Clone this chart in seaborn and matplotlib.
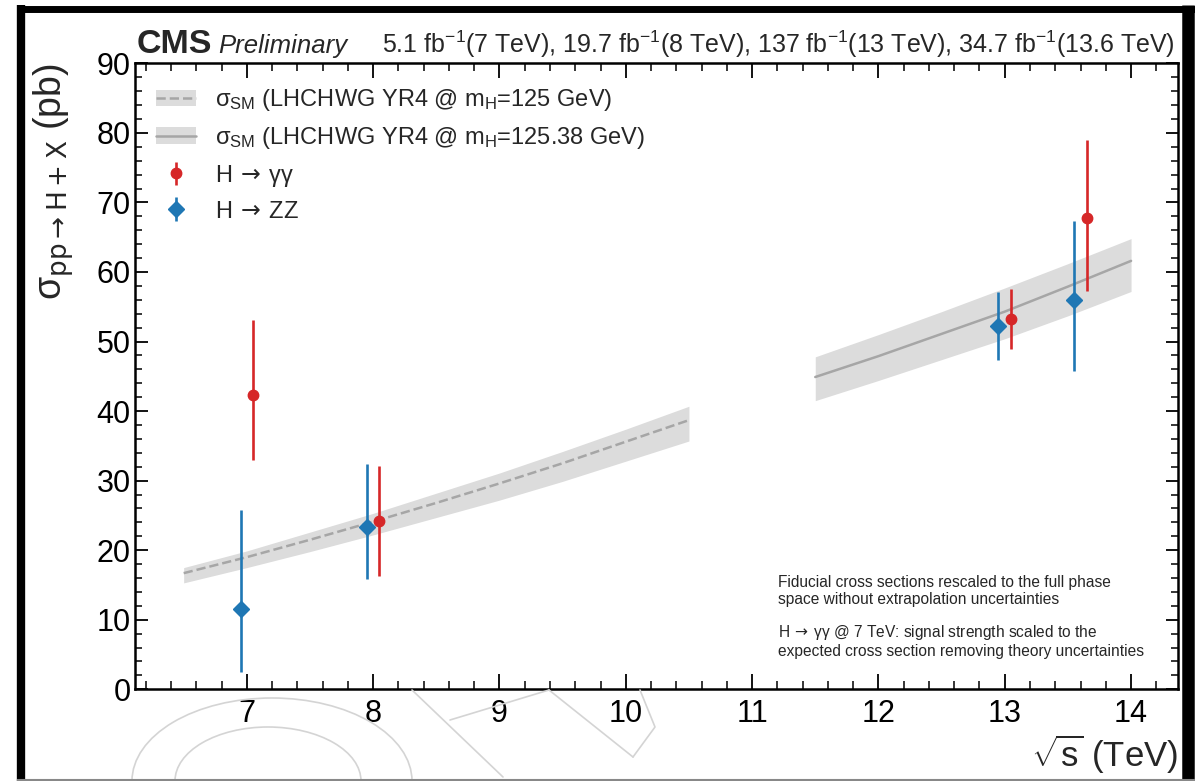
import matplotlib
matplotlib.use('Agg')
import matplotlib.pyplot as plt
import seaborn as sns
from matplotlib.lines import Line2D
from matplotlib.patches import Patch, Arc
from matplotlib.ticker import MultipleLocator

# theory predictions (YR4), central value and band edges in pb
sqrt_s_125 = [6.5, 7.0, 7.5, 8.0, 8.5, 9.0, 9.5, 10.0, 10.5]
xs_125 = [16.7, 19.0, 21.5, 24.1, 26.8, 29.6, 32.5, 35.6, 38.7]
xs_125_hi = [17.5, 19.9, 22.6, 25.3, 28.2, 31.1, 34.2, 37.4, 40.7]
xs_125_lo = [15.3, 17.5, 19.8, 22.2, 24.7, 27.2, 29.9, 32.8, 35.7]

sqrt_s_12538 = [11.5, 12.0, 12.5, 13.0, 13.5, 14.0]
xs_12538 = [44.9, 47.9, 51.1, 54.3, 57.9, 61.6]
xs_12538_hi = [47.8, 51.0, 54.3, 57.7, 61.2, 64.8]
xs_12538_lo = [41.5, 44.4, 47.4, 50.4, 53.7, 57.2]

# measurements (points shifted a bit left/right of the nominal energy)
x_gg = [7.05, 8.05, 13.05, 13.65]
y_gg = [42.3, 24.2, 53.2, 67.7]
y_gg_lo = [33.0, 16.3, 48.9, 57.2]
y_gg_hi = [53.1, 32.1, 57.6, 79.0]

x_zz = [6.95, 7.95, 12.95, 13.55]
y_zz = [11.5, 23.3, 52.2, 56.0]
y_zz_lo = [2.5, 15.9, 47.3, 45.7]
y_zz_hi = [25.8, 32.4, 57.1, 67.4]

red = '#d62728'
blue = '#1f77b4'
band = '#dcdcdc'
line_grey = '#a6a6a6'

sns.set_theme(style='ticks')
plt.rcParams['font.family'] = ['Liberation Sans', 'DejaVu Sans']
plt.rcParams['mathtext.fontset'] = 'custom'
plt.rcParams['mathtext.rm'] = 'Liberation Sans'
plt.rcParams['mathtext.it'] = 'Liberation Sans:italic'
plt.rcParams['mathtext.bf'] = 'Liberation Sans:bold'
plt.rcParams['mathtext.sf'] = 'Liberation Sans'

fig = plt.figure(figsize=(11.95, 7.81), dpi=100)
ax = fig.add_axes([0.113, 0.1174, 0.8726, 0.8015])

ax.fill_between(sqrt_s_125, xs_125_lo, xs_125_hi, color=band, lw=0, zorder=1)
sns.lineplot(x=sqrt_s_125, y=xs_125, ax=ax, color=line_grey, linestyle='--', lw=1.8, zorder=2)
ax.fill_between(sqrt_s_12538, xs_12538_lo, xs_12538_hi, color=band, lw=0, zorder=1)
sns.lineplot(x=sqrt_s_12538, y=xs_12538, ax=ax, color=line_grey, linestyle='-', lw=1.8, zorder=2)

err_gg = [[y - l for y, l in zip(y_gg, y_gg_lo)], [h - y for y, h in zip(y_gg, y_gg_hi)]]
err_zz = [[y - l for y, l in zip(y_zz, y_zz_lo)], [h - y for y, h in zip(y_zz, y_zz_hi)]]
eb_gg = ax.errorbar(x_gg, y_gg, yerr=err_gg, fmt='o', color=red, ms=7.5,
                    elinewidth=1.9, capsize=0, zorder=4)
eb_zz = ax.errorbar(x_zz, y_zz, yerr=err_zz, fmt='D', color=blue, ms=8,
                    elinewidth=1.9, capsize=0, zorder=4)

ax.set_xlim(6.115, 14.37)
ax.set_ylim(0, 90)
ax.xaxis.set_major_locator(MultipleLocator(1))
ax.xaxis.set_minor_locator(MultipleLocator(0.2))
ax.yaxis.set_major_locator(MultipleLocator(10))
ax.yaxis.set_minor_locator(MultipleLocator(2))
ax.tick_params(which='both', direction='in', top=True, right=True, colors='black')
ax.tick_params(axis='x', which='major', length=11, width=1.3, labelsize=22, pad=7)
ax.tick_params(axis='x', which='minor', length=6, width=1.1)
ax.tick_params(axis='y', which='major', length=9, width=1.3, labelsize=22, pad=3)
ax.tick_params(axis='y', which='minor', length=5, width=1.1)
for sp in ax.spines.values():
    sp.set_linewidth(1.8)
    sp.set_color('black')

ax.set_ylabel(r'σ$_{\mathrm{pp}\rightarrow\mathrm{H+X}}$ (pb)', fontsize=27, loc='top',
              math_fontfamily='dejavusans')
ax.yaxis.set_label_coords(-0.057, 1.0)
ax.set_xlabel(r'$\sqrt{\mathrm{s}}$ (TeV)', fontsize=25, loc='right')
ax.xaxis.set_label_coords(1.0, -0.07)

h1 = (Patch(facecolor=band, edgecolor='none'), Line2D([], [], color=line_grey, ls='--', lw=1.8))
h2 = (Patch(facecolor=band, edgecolor='none'), Line2D([], [], color=line_grey, ls='-', lw=1.8))
labels = [r'σ$_{\mathrm{SM}}$ (LHCHWG YR4 @ m$_{\mathrm{H}}$=125 GeV)',
          r'σ$_{\mathrm{SM}}$ (LHCHWG YR4 @ m$_{\mathrm{H}}$=125.38 GeV)',
          r'H$\,\rightarrow\,$γγ', r'H$\,\rightarrow\,$ZZ']
leg = ax.legend([h1, h2, eb_gg, eb_zz], labels, loc='upper left', bbox_to_anchor=(0.02, 0.962),
                frameon=False, fontsize=17, handlelength=1.7, handletextpad=0.8,
                labelspacing=0.5, borderaxespad=0, borderpad=0, numpoints=1)
for t in leg.get_texts()[2:]:
    t.set_math_fontfamily('dejavusans')

ax.text(0.617, 0.183, 'Fiducial cross sections rescaled to the full phase\n'
        'space without extrapolation uncertainties',
        transform=ax.transAxes, fontsize=11.2, va='top', ha='left', linespacing=1.2)
ax.text(0.617, 0.106, r'H$\,\rightarrow\,$γγ @ 7 TeV: signal strength scaled to the' '\n'
        'expected cross section removing theory uncertainties',
        transform=ax.transAxes, fontsize=11.2, va='top', ha='left', linespacing=1.2,
        math_fontfamily='dejavusans')

# header
fig.text(137 / 1195, 1 - 53 / 781, 'CMS', fontsize=24.5, fontweight='bold', va='baseline')
fig.text(218 / 1195, 1 - 53 / 781, 'Preliminary', fontsize=18.5, style='italic', va='baseline')
fig.text(1175 / 1195, 1 - 53 / 781,
         r'5.1 fb$^{-1}$(7 TeV), 19.7 fb$^{-1}$(8 TeV), 137 fb$^{-1}$(13 TeV), 34.7 fb$^{-1}$(13.6 TeV)',
         fontsize=18, ha='right', va='baseline')

# faint watermark at the bottom
def fx(px):
    return px / 1195

def fy(py):
    return 1 - py / 781

wm = '#d4d4d4'
for cx, a, b in [(272, 140, 83), (268, 93, 54)]:
    fig.add_artist(Arc((fx(cx), fy(781)), 2 * a / 1195, 2 * b / 781, theta1=0, theta2=180,
                       transform=fig.transFigure, color=wm, lw=1.2))
for xs, ys in [([412, 503], [690, 777]), ([450, 549], [720, 690]),
               ([549, 633], [690, 757]), ([633, 655, 640], [757, 727, 690])]:
    fig.add_artist(Line2D([fx(v) for v in xs], [fy(v) for v in ys], color=wm, lw=1.2))

# screenshot frame
fig.add_artist(Line2D([fx(21), fx(21)], [fy(5), fy(781)], color='black', lw=6,
                      solid_capstyle='butt'))
fig.add_artist(Line2D([fx(17), fx(1195)], [fy(8.5), fy(8.5)], color='black', lw=5,
                      solid_capstyle='butt'))
fig.add_artist(Line2D([fx(1188), fx(1188)], [fy(5), fy(781)], color='black', lw=9,
                      solid_capstyle='butt'))
fig.add_artist(Line2D([fx(17), fx(1195)], [fy(780), fy(780)], color='#888888', lw=1.5,
                      solid_capstyle='butt'))

fig.savefig('out.png', dpi=100)
